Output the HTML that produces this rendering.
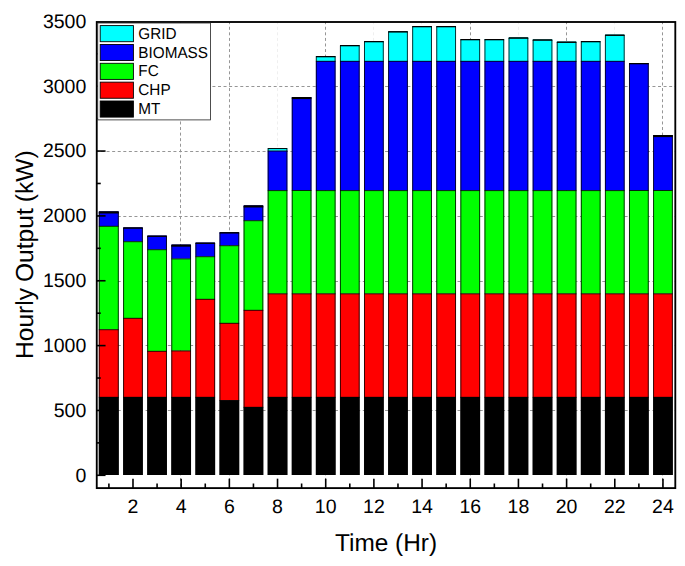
<!DOCTYPE html>
<html><head><meta charset="utf-8"><title>Hourly Output</title>
<style>
html,body{margin:0;padding:0;background:#fff;}
body{width:685px;height:566px;overflow:hidden;font-family:"Liberation Sans",sans-serif;}
svg{display:block;}
.t{font-family:"Liberation Sans",sans-serif;fill:#000;text-rendering:geometricPrecision;}
</style></head><body>
<svg width="685" height="566" viewBox="0 0 685 566">
<rect width="685" height="566" fill="#fff"/>
<g stroke-width="1" stroke-dasharray="3 2.57" fill="none">
<path stroke="#969696" stroke-dashoffset="1.3" d="M96.75 410.50H675.30"/>
<path stroke="#969696" stroke-dashoffset="1.3" d="M96.75 345.50H675.30"/>
<path stroke="#969696" stroke-dashoffset="1.3" d="M96.75 281.50H675.30"/>
<path stroke="#969696" stroke-dashoffset="1.3" d="M96.75 216.50H675.30"/>
<path stroke="#969696" stroke-dashoffset="1.3" d="M96.75 151.50H675.30"/>
<path stroke="#969696" stroke-dashoffset="1.3" d="M96.75 86.50H675.30"/>
<path stroke="#969696" stroke-dashoffset="0.8" d="M180.50 22.00V488.10"/>
<path stroke="#969696" stroke-dashoffset="0.8" d="M229.50 22.00V488.10"/>
<path stroke="#efefef" stroke-dashoffset="0.8" d="M277.50 22.00V488.10"/>
<path stroke="#969696" stroke-dashoffset="0.8" d="M325.50 22.00V488.10"/>
<path stroke="#efefef" stroke-dashoffset="0.8" d="M373.50 22.00V488.10"/>
<path stroke="#efefef" stroke-dashoffset="0.8" d="M421.50 22.00V488.10"/>
<path stroke="#969696" stroke-dashoffset="0.8" d="M470.50 22.00V488.10"/>
<path stroke="#efefef" stroke-dashoffset="0.8" d="M518.50 22.00V488.10"/>
<path stroke="#969696" stroke-dashoffset="0.8" d="M566.50 22.00V488.10"/>
<path stroke="#efefef" stroke-dashoffset="0.8" d="M614.50 22.00V488.10"/>
<path stroke="#969696" stroke-dashoffset="0.8" d="M662.50 22.00V488.10"/>
</g>
<rect x="98.85" y="397.00" width="19.85" height="78.00" fill="#000000"/>
<rect x="98.85" y="329.40" width="19.85" height="67.60" fill="#ff0000"/>
<rect x="98.85" y="226.00" width="19.85" height="103.40" fill="#00ff00"/>
<rect x="98.85" y="211.40" width="19.85" height="14.60" fill="#0000ff"/>
<path d="M98.85 397.30h19.85" stroke="#000" stroke-width="0.85"/>
<path d="M98.85 329.70h19.85" stroke="#000" stroke-width="0.85"/>
<path d="M98.85 226.30h19.85" stroke="#000" stroke-width="0.85"/>
<path d="M99.25 475.00V211.90H118.30V475.00" fill="none" stroke="#000" stroke-width="0.8"/>
<path d="M98.85 212.45h19.85" stroke="#000" stroke-width="2.1"/>
<rect x="123.19" y="397.00" width="19.60" height="78.00" fill="#000000"/>
<rect x="123.19" y="318.00" width="19.60" height="79.00" fill="#ff0000"/>
<rect x="123.19" y="241.40" width="19.60" height="76.60" fill="#00ff00"/>
<rect x="123.19" y="227.40" width="19.60" height="14.00" fill="#0000ff"/>
<path d="M123.19 397.30h19.60" stroke="#000" stroke-width="0.85"/>
<path d="M123.19 318.30h19.60" stroke="#000" stroke-width="0.85"/>
<path d="M123.19 241.70h19.60" stroke="#000" stroke-width="0.85"/>
<path d="M123.59 475.00V227.90H142.39V475.00" fill="none" stroke="#000" stroke-width="0.8"/>
<path d="M123.19 228.05h19.60" stroke="#000" stroke-width="1.3"/>
<rect x="147.28" y="397.00" width="19.60" height="78.00" fill="#000000"/>
<rect x="147.28" y="351.00" width="19.60" height="46.00" fill="#ff0000"/>
<rect x="147.28" y="249.40" width="19.60" height="101.60" fill="#00ff00"/>
<rect x="147.28" y="235.60" width="19.60" height="13.80" fill="#0000ff"/>
<path d="M147.28 397.30h19.60" stroke="#000" stroke-width="0.85"/>
<path d="M147.28 351.30h19.60" stroke="#000" stroke-width="0.85"/>
<path d="M147.28 249.70h19.60" stroke="#000" stroke-width="0.85"/>
<path d="M147.68 475.00V236.10H166.48V475.00" fill="none" stroke="#000" stroke-width="0.8"/>
<path d="M147.28 236.25h19.60" stroke="#000" stroke-width="1.3"/>
<rect x="171.37" y="397.00" width="19.60" height="78.00" fill="#000000"/>
<rect x="171.37" y="350.60" width="19.60" height="46.40" fill="#ff0000"/>
<rect x="171.37" y="258.60" width="19.60" height="92.00" fill="#00ff00"/>
<rect x="171.37" y="244.60" width="19.60" height="14.00" fill="#0000ff"/>
<path d="M171.37 397.30h19.60" stroke="#000" stroke-width="0.85"/>
<path d="M171.37 350.90h19.60" stroke="#000" stroke-width="0.85"/>
<path d="M171.37 258.90h19.60" stroke="#000" stroke-width="0.85"/>
<path d="M171.77 475.00V245.10H190.57V475.00" fill="none" stroke="#000" stroke-width="0.8"/>
<path d="M171.37 245.65h19.60" stroke="#000" stroke-width="2.1"/>
<rect x="195.46" y="397.00" width="19.60" height="78.00" fill="#000000"/>
<rect x="195.46" y="299.00" width="19.60" height="98.00" fill="#ff0000"/>
<rect x="195.46" y="256.40" width="19.60" height="42.60" fill="#00ff00"/>
<rect x="195.46" y="242.60" width="19.60" height="13.80" fill="#0000ff"/>
<path d="M195.46 397.30h19.60" stroke="#000" stroke-width="0.85"/>
<path d="M195.46 299.30h19.60" stroke="#000" stroke-width="0.85"/>
<path d="M195.46 256.70h19.60" stroke="#000" stroke-width="0.85"/>
<path d="M195.86 475.00V243.10H214.66V475.00" fill="none" stroke="#000" stroke-width="0.8"/>
<path d="M195.46 243.25h19.60" stroke="#000" stroke-width="1.3"/>
<rect x="219.55" y="400.20" width="19.60" height="74.80" fill="#000000"/>
<rect x="219.55" y="323.00" width="19.60" height="77.20" fill="#ff0000"/>
<rect x="219.55" y="245.40" width="19.60" height="77.60" fill="#00ff00"/>
<rect x="219.55" y="232.20" width="19.60" height="13.20" fill="#0000ff"/>
<path d="M219.55 400.50h19.60" stroke="#000" stroke-width="0.85"/>
<path d="M219.55 323.30h19.60" stroke="#000" stroke-width="0.85"/>
<path d="M219.55 245.70h19.60" stroke="#000" stroke-width="0.85"/>
<path d="M219.95 475.00V232.70H238.75V475.00" fill="none" stroke="#000" stroke-width="0.8"/>
<path d="M219.55 232.85h19.60" stroke="#000" stroke-width="1.3"/>
<rect x="243.64" y="407.00" width="19.60" height="68.00" fill="#000000"/>
<rect x="243.64" y="310.00" width="19.60" height="97.00" fill="#ff0000"/>
<rect x="243.64" y="220.40" width="19.60" height="89.60" fill="#00ff00"/>
<rect x="243.64" y="205.40" width="19.60" height="15.00" fill="#0000ff"/>
<path d="M243.64 407.30h19.60" stroke="#000" stroke-width="0.85"/>
<path d="M243.64 310.30h19.60" stroke="#000" stroke-width="0.85"/>
<path d="M243.64 220.70h19.60" stroke="#000" stroke-width="0.85"/>
<path d="M244.04 475.00V205.90H262.84V475.00" fill="none" stroke="#000" stroke-width="0.8"/>
<path d="M243.64 206.45h19.60" stroke="#000" stroke-width="2.1"/>
<rect x="267.73" y="397.00" width="19.60" height="78.00" fill="#000000"/>
<rect x="267.73" y="293.50" width="19.60" height="103.50" fill="#ff0000"/>
<rect x="267.73" y="190.30" width="19.60" height="103.20" fill="#00ff00"/>
<rect x="267.73" y="150.70" width="19.60" height="39.60" fill="#0000ff"/>
<rect x="267.73" y="148.10" width="19.60" height="2.60" fill="#00ffff"/>
<path d="M267.73 397.30h19.60" stroke="#000" stroke-width="0.85"/>
<path d="M267.73 293.80h19.60" stroke="#000" stroke-width="0.85"/>
<path d="M267.73 190.60h19.60" stroke="#000" stroke-width="0.85"/>
<path d="M267.73 151.00h19.60" stroke="#000" stroke-width="0.85"/>
<path d="M268.13 475.00V148.60H286.93V475.00" fill="none" stroke="#000" stroke-width="0.8"/>
<path d="M267.73 148.50h19.60" stroke="#000" stroke-width="0.8"/>
<rect x="291.82" y="397.00" width="19.60" height="78.00" fill="#000000"/>
<rect x="291.82" y="293.50" width="19.60" height="103.50" fill="#ff0000"/>
<rect x="291.82" y="190.20" width="19.60" height="103.30" fill="#00ff00"/>
<rect x="291.82" y="97.00" width="19.60" height="93.20" fill="#0000ff"/>
<path d="M291.82 397.30h19.60" stroke="#000" stroke-width="0.85"/>
<path d="M291.82 293.80h19.60" stroke="#000" stroke-width="0.85"/>
<path d="M291.82 190.50h19.60" stroke="#000" stroke-width="0.85"/>
<path d="M292.22 475.00V97.50H311.02V475.00" fill="none" stroke="#000" stroke-width="0.8"/>
<path d="M291.82 98.05h19.60" stroke="#000" stroke-width="2.1"/>
<rect x="315.91" y="397.00" width="19.60" height="78.00" fill="#000000"/>
<rect x="315.91" y="293.50" width="19.60" height="103.50" fill="#ff0000"/>
<rect x="315.91" y="190.30" width="19.60" height="103.20" fill="#00ff00"/>
<rect x="315.91" y="61.00" width="19.60" height="129.30" fill="#0000ff"/>
<rect x="315.91" y="56.00" width="19.60" height="5.00" fill="#00ffff"/>
<path d="M315.91 397.30h19.60" stroke="#000" stroke-width="0.85"/>
<path d="M315.91 293.80h19.60" stroke="#000" stroke-width="0.85"/>
<path d="M315.91 190.60h19.60" stroke="#000" stroke-width="0.85"/>
<path d="M315.91 61.30h19.60" stroke="#000" stroke-width="0.85"/>
<path d="M316.31 475.00V56.50H335.11V475.00" fill="none" stroke="#000" stroke-width="0.8"/>
<path d="M315.91 56.65h19.60" stroke="#000" stroke-width="1.3"/>
<rect x="340.00" y="397.00" width="19.60" height="78.00" fill="#000000"/>
<rect x="340.00" y="293.50" width="19.60" height="103.50" fill="#ff0000"/>
<rect x="340.00" y="190.30" width="19.60" height="103.20" fill="#00ff00"/>
<rect x="340.00" y="61.00" width="19.60" height="129.30" fill="#0000ff"/>
<rect x="340.00" y="45.00" width="19.60" height="16.00" fill="#00ffff"/>
<path d="M340.00 397.30h19.60" stroke="#000" stroke-width="0.85"/>
<path d="M340.00 293.80h19.60" stroke="#000" stroke-width="0.85"/>
<path d="M340.00 190.60h19.60" stroke="#000" stroke-width="0.85"/>
<path d="M340.00 61.30h19.60" stroke="#000" stroke-width="0.85"/>
<path d="M340.40 475.00V45.50H359.20V475.00" fill="none" stroke="#000" stroke-width="0.8"/>
<path d="M340.00 45.65h19.60" stroke="#000" stroke-width="1.3"/>
<rect x="364.09" y="397.00" width="19.60" height="78.00" fill="#000000"/>
<rect x="364.09" y="293.50" width="19.60" height="103.50" fill="#ff0000"/>
<rect x="364.09" y="190.30" width="19.60" height="103.20" fill="#00ff00"/>
<rect x="364.09" y="61.00" width="19.60" height="129.30" fill="#0000ff"/>
<rect x="364.09" y="41.00" width="19.60" height="20.00" fill="#00ffff"/>
<path d="M364.09 397.30h19.60" stroke="#000" stroke-width="0.85"/>
<path d="M364.09 293.80h19.60" stroke="#000" stroke-width="0.85"/>
<path d="M364.09 190.60h19.60" stroke="#000" stroke-width="0.85"/>
<path d="M364.09 61.30h19.60" stroke="#000" stroke-width="0.85"/>
<path d="M364.49 475.00V41.50H383.29V475.00" fill="none" stroke="#000" stroke-width="0.8"/>
<path d="M364.09 41.65h19.60" stroke="#000" stroke-width="1.3"/>
<rect x="388.18" y="397.00" width="19.60" height="78.00" fill="#000000"/>
<rect x="388.18" y="293.50" width="19.60" height="103.50" fill="#ff0000"/>
<rect x="388.18" y="190.30" width="19.60" height="103.20" fill="#00ff00"/>
<rect x="388.18" y="61.00" width="19.60" height="129.30" fill="#0000ff"/>
<rect x="388.18" y="31.20" width="19.60" height="29.80" fill="#00ffff"/>
<path d="M388.18 397.30h19.60" stroke="#000" stroke-width="0.85"/>
<path d="M388.18 293.80h19.60" stroke="#000" stroke-width="0.85"/>
<path d="M388.18 190.60h19.60" stroke="#000" stroke-width="0.85"/>
<path d="M388.18 61.30h19.60" stroke="#000" stroke-width="0.85"/>
<path d="M388.58 475.00V31.70H407.38V475.00" fill="none" stroke="#000" stroke-width="0.8"/>
<path d="M388.18 31.85h19.60" stroke="#000" stroke-width="1.3"/>
<rect x="412.27" y="397.00" width="19.60" height="78.00" fill="#000000"/>
<rect x="412.27" y="293.50" width="19.60" height="103.50" fill="#ff0000"/>
<rect x="412.27" y="190.30" width="19.60" height="103.20" fill="#00ff00"/>
<rect x="412.27" y="61.00" width="19.60" height="129.30" fill="#0000ff"/>
<rect x="412.27" y="26.00" width="19.60" height="35.00" fill="#00ffff"/>
<path d="M412.27 397.30h19.60" stroke="#000" stroke-width="0.85"/>
<path d="M412.27 293.80h19.60" stroke="#000" stroke-width="0.85"/>
<path d="M412.27 190.60h19.60" stroke="#000" stroke-width="0.85"/>
<path d="M412.27 61.30h19.60" stroke="#000" stroke-width="0.85"/>
<path d="M412.67 475.00V26.50H431.47V475.00" fill="none" stroke="#000" stroke-width="0.8"/>
<path d="M412.27 26.65h19.60" stroke="#000" stroke-width="1.3"/>
<rect x="436.36" y="397.00" width="19.60" height="78.00" fill="#000000"/>
<rect x="436.36" y="293.50" width="19.60" height="103.50" fill="#ff0000"/>
<rect x="436.36" y="190.30" width="19.60" height="103.20" fill="#00ff00"/>
<rect x="436.36" y="61.00" width="19.60" height="129.30" fill="#0000ff"/>
<rect x="436.36" y="26.00" width="19.60" height="35.00" fill="#00ffff"/>
<path d="M436.36 397.30h19.60" stroke="#000" stroke-width="0.85"/>
<path d="M436.36 293.80h19.60" stroke="#000" stroke-width="0.85"/>
<path d="M436.36 190.60h19.60" stroke="#000" stroke-width="0.85"/>
<path d="M436.36 61.30h19.60" stroke="#000" stroke-width="0.85"/>
<path d="M436.76 475.00V26.50H455.56V475.00" fill="none" stroke="#000" stroke-width="0.8"/>
<path d="M436.36 26.65h19.60" stroke="#000" stroke-width="1.3"/>
<rect x="460.45" y="397.00" width="19.60" height="78.00" fill="#000000"/>
<rect x="460.45" y="293.50" width="19.60" height="103.50" fill="#ff0000"/>
<rect x="460.45" y="190.30" width="19.60" height="103.20" fill="#00ff00"/>
<rect x="460.45" y="61.00" width="19.60" height="129.30" fill="#0000ff"/>
<rect x="460.45" y="39.00" width="19.60" height="22.00" fill="#00ffff"/>
<path d="M460.45 397.30h19.60" stroke="#000" stroke-width="0.85"/>
<path d="M460.45 293.80h19.60" stroke="#000" stroke-width="0.85"/>
<path d="M460.45 190.60h19.60" stroke="#000" stroke-width="0.85"/>
<path d="M460.45 61.30h19.60" stroke="#000" stroke-width="0.85"/>
<path d="M460.85 475.00V39.50H479.65V475.00" fill="none" stroke="#000" stroke-width="0.8"/>
<path d="M460.45 39.65h19.60" stroke="#000" stroke-width="1.3"/>
<rect x="484.54" y="397.00" width="19.60" height="78.00" fill="#000000"/>
<rect x="484.54" y="293.50" width="19.60" height="103.50" fill="#ff0000"/>
<rect x="484.54" y="190.30" width="19.60" height="103.20" fill="#00ff00"/>
<rect x="484.54" y="61.00" width="19.60" height="129.30" fill="#0000ff"/>
<rect x="484.54" y="39.00" width="19.60" height="22.00" fill="#00ffff"/>
<path d="M484.54 397.30h19.60" stroke="#000" stroke-width="0.85"/>
<path d="M484.54 293.80h19.60" stroke="#000" stroke-width="0.85"/>
<path d="M484.54 190.60h19.60" stroke="#000" stroke-width="0.85"/>
<path d="M484.54 61.30h19.60" stroke="#000" stroke-width="0.85"/>
<path d="M484.94 475.00V39.50H503.74V475.00" fill="none" stroke="#000" stroke-width="0.8"/>
<path d="M484.54 39.65h19.60" stroke="#000" stroke-width="1.3"/>
<rect x="508.63" y="397.00" width="19.60" height="78.00" fill="#000000"/>
<rect x="508.63" y="293.50" width="19.60" height="103.50" fill="#ff0000"/>
<rect x="508.63" y="190.30" width="19.60" height="103.20" fill="#00ff00"/>
<rect x="508.63" y="61.00" width="19.60" height="129.30" fill="#0000ff"/>
<rect x="508.63" y="37.40" width="19.60" height="23.60" fill="#00ffff"/>
<path d="M508.63 397.30h19.60" stroke="#000" stroke-width="0.85"/>
<path d="M508.63 293.80h19.60" stroke="#000" stroke-width="0.85"/>
<path d="M508.63 190.60h19.60" stroke="#000" stroke-width="0.85"/>
<path d="M508.63 61.30h19.60" stroke="#000" stroke-width="0.85"/>
<path d="M509.03 475.00V37.90H527.83V475.00" fill="none" stroke="#000" stroke-width="0.8"/>
<path d="M508.63 38.05h19.60" stroke="#000" stroke-width="1.3"/>
<rect x="532.72" y="397.00" width="19.60" height="78.00" fill="#000000"/>
<rect x="532.72" y="293.50" width="19.60" height="103.50" fill="#ff0000"/>
<rect x="532.72" y="190.30" width="19.60" height="103.20" fill="#00ff00"/>
<rect x="532.72" y="61.00" width="19.60" height="129.30" fill="#0000ff"/>
<rect x="532.72" y="39.40" width="19.60" height="21.60" fill="#00ffff"/>
<path d="M532.72 397.30h19.60" stroke="#000" stroke-width="0.85"/>
<path d="M532.72 293.80h19.60" stroke="#000" stroke-width="0.85"/>
<path d="M532.72 190.60h19.60" stroke="#000" stroke-width="0.85"/>
<path d="M532.72 61.30h19.60" stroke="#000" stroke-width="0.85"/>
<path d="M533.12 475.00V39.90H551.92V475.00" fill="none" stroke="#000" stroke-width="0.8"/>
<path d="M532.72 40.05h19.60" stroke="#000" stroke-width="1.3"/>
<rect x="556.81" y="397.00" width="19.60" height="78.00" fill="#000000"/>
<rect x="556.81" y="293.50" width="19.60" height="103.50" fill="#ff0000"/>
<rect x="556.81" y="190.30" width="19.60" height="103.20" fill="#00ff00"/>
<rect x="556.81" y="61.00" width="19.60" height="129.30" fill="#0000ff"/>
<rect x="556.81" y="41.60" width="19.60" height="19.40" fill="#00ffff"/>
<path d="M556.81 397.30h19.60" stroke="#000" stroke-width="0.85"/>
<path d="M556.81 293.80h19.60" stroke="#000" stroke-width="0.85"/>
<path d="M556.81 190.60h19.60" stroke="#000" stroke-width="0.85"/>
<path d="M556.81 61.30h19.60" stroke="#000" stroke-width="0.85"/>
<path d="M557.21 475.00V42.10H576.01V475.00" fill="none" stroke="#000" stroke-width="0.8"/>
<path d="M556.81 42.25h19.60" stroke="#000" stroke-width="1.3"/>
<rect x="580.90" y="397.00" width="19.60" height="78.00" fill="#000000"/>
<rect x="580.90" y="293.50" width="19.60" height="103.50" fill="#ff0000"/>
<rect x="580.90" y="190.30" width="19.60" height="103.20" fill="#00ff00"/>
<rect x="580.90" y="61.00" width="19.60" height="129.30" fill="#0000ff"/>
<rect x="580.90" y="41.00" width="19.60" height="20.00" fill="#00ffff"/>
<path d="M580.90 397.30h19.60" stroke="#000" stroke-width="0.85"/>
<path d="M580.90 293.80h19.60" stroke="#000" stroke-width="0.85"/>
<path d="M580.90 190.60h19.60" stroke="#000" stroke-width="0.85"/>
<path d="M580.90 61.30h19.60" stroke="#000" stroke-width="0.85"/>
<path d="M581.30 475.00V41.50H600.10V475.00" fill="none" stroke="#000" stroke-width="0.8"/>
<path d="M580.90 41.65h19.60" stroke="#000" stroke-width="1.3"/>
<rect x="604.99" y="397.00" width="19.60" height="78.00" fill="#000000"/>
<rect x="604.99" y="293.50" width="19.60" height="103.50" fill="#ff0000"/>
<rect x="604.99" y="190.30" width="19.60" height="103.20" fill="#00ff00"/>
<rect x="604.99" y="61.00" width="19.60" height="129.30" fill="#0000ff"/>
<rect x="604.99" y="34.60" width="19.60" height="26.40" fill="#00ffff"/>
<path d="M604.99 397.30h19.60" stroke="#000" stroke-width="0.85"/>
<path d="M604.99 293.80h19.60" stroke="#000" stroke-width="0.85"/>
<path d="M604.99 190.60h19.60" stroke="#000" stroke-width="0.85"/>
<path d="M604.99 61.30h19.60" stroke="#000" stroke-width="0.85"/>
<path d="M605.39 475.00V35.10H624.19V475.00" fill="none" stroke="#000" stroke-width="0.8"/>
<path d="M604.99 35.25h19.60" stroke="#000" stroke-width="1.3"/>
<rect x="629.08" y="397.00" width="19.60" height="78.00" fill="#000000"/>
<rect x="629.08" y="293.50" width="19.60" height="103.50" fill="#ff0000"/>
<rect x="629.08" y="190.20" width="19.60" height="103.30" fill="#00ff00"/>
<rect x="629.08" y="63.00" width="19.60" height="127.20" fill="#0000ff"/>
<path d="M629.08 397.30h19.60" stroke="#000" stroke-width="0.85"/>
<path d="M629.08 293.80h19.60" stroke="#000" stroke-width="0.85"/>
<path d="M629.08 190.50h19.60" stroke="#000" stroke-width="0.85"/>
<path d="M629.48 475.00V63.50H648.28V475.00" fill="none" stroke="#000" stroke-width="0.8"/>
<path d="M629.08 63.65h19.60" stroke="#000" stroke-width="1.3"/>
<rect x="653.17" y="397.00" width="19.60" height="78.00" fill="#000000"/>
<rect x="653.17" y="293.50" width="19.60" height="103.50" fill="#ff0000"/>
<rect x="653.17" y="190.20" width="19.60" height="103.30" fill="#00ff00"/>
<rect x="653.17" y="135.00" width="19.60" height="55.20" fill="#0000ff"/>
<path d="M653.17 397.30h19.60" stroke="#000" stroke-width="0.85"/>
<path d="M653.17 293.80h19.60" stroke="#000" stroke-width="0.85"/>
<path d="M653.17 190.50h19.60" stroke="#000" stroke-width="0.85"/>
<path d="M653.57 475.00V135.50H672.37V475.00" fill="none" stroke="#000" stroke-width="0.8"/>
<path d="M653.17 136.05h19.60" stroke="#000" stroke-width="2.1"/>
<g stroke="#000" fill="none">
<rect x="96.75" y="22.00" width="578.55" height="466.10" stroke-width="1.85"/>
<g stroke-width="1.6">
<path d="M96.75 475.30h8.80"/>
<path d="M96.75 442.88h4.00"/>
<path d="M96.75 410.45h8.80"/>
<path d="M96.75 378.02h4.00"/>
<path d="M96.75 345.60h8.80"/>
<path d="M96.75 313.18h4.00"/>
<path d="M96.75 280.75h8.80"/>
<path d="M96.75 248.32h4.00"/>
<path d="M96.75 215.90h8.80"/>
<path d="M96.75 183.47h4.00"/>
<path d="M96.75 151.05h8.80"/>
<path d="M96.75 118.62h4.00"/>
<path d="M96.75 86.20h8.80"/>
<path d="M96.75 53.77h4.00"/>
<path d="M108.90 488.10v-4.60"/>
<path d="M132.99 488.10v-9.40"/>
<path d="M157.08 488.10v-4.60"/>
<path d="M181.17 488.10v-9.40"/>
<path d="M205.26 488.10v-4.60"/>
<path d="M229.35 488.10v-9.40"/>
<path d="M253.44 488.10v-4.60"/>
<path d="M277.53 488.10v-9.40"/>
<path d="M301.62 488.10v-4.60"/>
<path d="M325.71 488.10v-9.40"/>
<path d="M349.80 488.10v-4.60"/>
<path d="M373.89 488.10v-9.40"/>
<path d="M397.98 488.10v-4.60"/>
<path d="M422.07 488.10v-9.40"/>
<path d="M446.16 488.10v-4.60"/>
<path d="M470.25 488.10v-9.40"/>
<path d="M494.34 488.10v-4.60"/>
<path d="M518.43 488.10v-9.40"/>
<path d="M542.52 488.10v-4.60"/>
<path d="M566.61 488.10v-9.40"/>
<path d="M590.70 488.10v-4.60"/>
<path d="M614.79 488.10v-9.40"/>
<path d="M638.88 488.10v-4.60"/>
<path d="M662.97 488.10v-9.40"/>
</g></g>
<rect x="97.75" y="23.00" width="112.80" height="96.90" fill="#fff" stroke="#222" stroke-width="0.8"/>
<rect x="100.2" y="25.60" width="33.2" height="16.1" fill="#00ffff" stroke="#000" stroke-width="0.9"/>
<text transform="translate(138.3 38.70) scale(1 1.035)" font-size="15.3" class="t">GRID</text>
<rect x="100.2" y="44.45" width="33.2" height="16.1" fill="#0000ff" stroke="#000" stroke-width="0.9"/>
<text transform="translate(138.3 57.55) scale(1 1.035)" font-size="15.3" class="t">BIOMASS</text>
<rect x="100.2" y="63.30" width="33.2" height="16.1" fill="#00ff00" stroke="#000" stroke-width="0.9"/>
<text transform="translate(138.3 76.40) scale(1 1.035)" font-size="15.3" class="t">FC</text>
<rect x="100.2" y="82.15" width="33.2" height="16.1" fill="#ff0000" stroke="#000" stroke-width="0.9"/>
<text transform="translate(138.3 95.25) scale(1 1.035)" font-size="15.3" class="t">CHP</text>
<rect x="100.2" y="101.00" width="33.2" height="16.1" fill="#000000" stroke="#000" stroke-width="0.9"/>
<text transform="translate(138.3 114.10) scale(1 1.035)" font-size="15.3" class="t">MT</text>
<text x="86.3" y="481.60" font-size="19.5" text-anchor="end" class="t">0</text>
<text x="86.3" y="416.75" font-size="19.5" text-anchor="end" class="t">500</text>
<text x="86.3" y="351.90" font-size="19.5" text-anchor="end" class="t">1000</text>
<text x="86.3" y="287.05" font-size="19.5" text-anchor="end" class="t">1500</text>
<text x="86.3" y="222.20" font-size="19.5" text-anchor="end" class="t">2000</text>
<text x="86.3" y="157.35" font-size="19.5" text-anchor="end" class="t">2500</text>
<text x="86.3" y="92.50" font-size="19.5" text-anchor="end" class="t">3000</text>
<text x="86.3" y="27.65" font-size="19.5" text-anchor="end" class="t">3500</text>
<text x="132.99" y="513.2" font-size="19.5" text-anchor="middle" class="t">2</text>
<text x="181.17" y="513.2" font-size="19.5" text-anchor="middle" class="t">4</text>
<text x="229.35" y="513.2" font-size="19.5" text-anchor="middle" class="t">6</text>
<text x="277.53" y="513.2" font-size="19.5" text-anchor="middle" class="t">8</text>
<text x="325.71" y="513.2" font-size="19.5" text-anchor="middle" class="t">10</text>
<text x="373.89" y="513.2" font-size="19.5" text-anchor="middle" class="t">12</text>
<text x="422.07" y="513.2" font-size="19.5" text-anchor="middle" class="t">14</text>
<text x="470.25" y="513.2" font-size="19.5" text-anchor="middle" class="t">16</text>
<text x="518.43" y="513.2" font-size="19.5" text-anchor="middle" class="t">18</text>
<text x="566.61" y="513.2" font-size="19.5" text-anchor="middle" class="t">20</text>
<text x="614.79" y="513.2" font-size="19.5" text-anchor="middle" class="t">22</text>
<text x="662.97" y="513.2" font-size="19.5" text-anchor="middle" class="t">24</text>
<text x="386.05" y="550.6" font-size="24.4" text-anchor="middle" class="t">Time (Hr)</text>
<text transform="translate(32.5 254.7) rotate(-90)" font-size="24.6" word-spacing="-0.9" text-anchor="middle" class="t">Hourly Output (kW)</text>
</svg>
</body></html>
